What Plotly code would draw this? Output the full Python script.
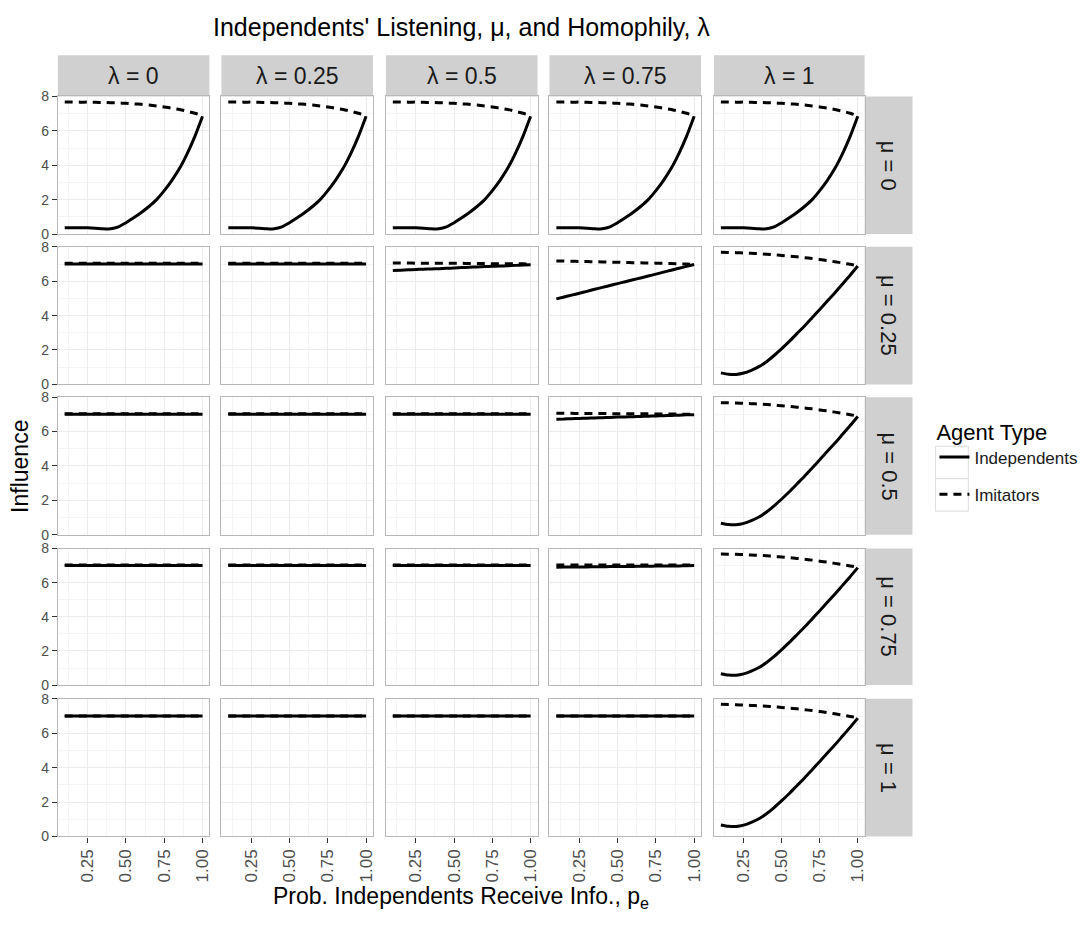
import plotly.graph_objects as go

# ---------------- data ----------------
p = [0.10, 0.15, 0.20, 0.25, 0.30, 0.35, 0.40, 0.45, 0.50, 0.55,
     0.60, 0.65, 0.70, 0.75, 0.80, 0.85, 0.90, 0.95, 1.00]

lam_labels = ["λ = 0", "λ = 0.25", "λ = 0.5", "λ = 0.75", "λ = 1"]
mu_labels = ["μ = 0", "μ = 0.25", "μ = 0.5", "μ = 0.75", "μ = 1"]

x_tickvals = [0.25, 0.50, 0.75, 1.00]
x_ticktext = ["0.25", "0.50", "0.75", "1.00"]
y_tickvals = [0, 2, 4, 6, 8]

# mu = 0 (all lambda)
ind_mu0 = [0.37, 0.37, 0.36, 0.36, 0.34, 0.30, 0.31, 0.42, 0.66, 0.94,
           1.25, 1.60, 2.00, 2.52, 3.12, 3.82, 4.68, 5.68, 6.85]
imi_mu0 = [7.68, 7.68, 7.67, 7.67, 7.66, 7.65, 7.64, 7.62, 7.60, 7.57,
           7.54, 7.50, 7.45, 7.39, 7.32, 7.24, 7.14, 7.02, 6.88]

# lambda = 1 (mu > 0)
ind_lam1 = [0.67, 0.59, 0.58, 0.66, 0.82, 1.03, 1.32, 1.68, 2.08, 2.50,
            2.95, 3.40, 3.88, 4.36, 4.85, 5.33, 5.84, 6.35, 6.88]
imi_lam1 = [7.68, 7.67, 7.66, 7.64, 7.62, 7.60, 7.57, 7.54, 7.50, 7.46,
            7.42, 7.37, 7.32, 7.26, 7.20, 7.13, 7.06, 6.98, 6.90]

# flat panels
ind_flat = [7.00, 7.00, 7.00, 7.00, 7.00, 7.00, 7.00, 7.00, 7.00, 7.00,
            7.00, 7.00, 7.00, 7.00, 7.00, 7.00, 7.00, 7.00, 7.00]
imi_flat = [7.04, 7.04, 7.04, 7.04, 7.04, 7.04, 7.04, 7.04, 7.04, 7.04,
            7.04, 7.04, 7.04, 7.04, 7.04, 7.04, 7.04, 7.04, 7.04]
imi_mu1 = [7.00, 7.00, 7.00, 7.00, 7.00, 7.00, 7.00, 7.00, 7.00, 7.00,
           7.00, 7.00, 7.00, 7.00, 7.00, 7.00, 7.00, 7.00, 7.00]

# mu = 0.25
ind_mu25_lam50 = [6.62, 6.64, 6.66, 6.68, 6.70, 6.71, 6.73, 6.75, 6.77, 6.79,
                  6.81, 6.83, 6.85, 6.87, 6.88, 6.90, 6.92, 6.94, 6.96]
imi_mu25_lam50 = [7.06, 7.06, 7.06, 7.05, 7.05, 7.05, 7.05, 7.04, 7.04, 7.04,
                  7.03, 7.03, 7.03, 7.02, 7.02, 7.02, 7.01, 7.01, 7.00]
ind_mu25_lam75 = [4.97, 5.08, 5.19, 5.30, 5.41, 5.53, 5.64, 5.75, 5.86, 5.97,
                  6.08, 6.19, 6.30, 6.41, 6.53, 6.64, 6.75, 6.86, 6.97]
imi_mu25_lam75 = [7.18, 7.17, 7.16, 7.15, 7.14, 7.13, 7.12, 7.11, 7.10, 7.09,
                  7.08, 7.07, 7.06, 7.05, 7.04, 7.03, 7.01, 7.00, 6.98]

# mu = 0.5
ind_mu50_lam75 = [6.72, 6.73, 6.75, 6.76, 6.78, 6.79, 6.81, 6.82, 6.84, 6.85,
                  6.86, 6.88, 6.89, 6.91, 6.92, 6.94, 6.95, 6.97, 6.98]
imi_mu50_lam75 = [7.06, 7.06, 7.06, 7.05, 7.05, 7.05, 7.05, 7.04, 7.04, 7.04,
                  7.03, 7.03, 7.03, 7.02, 7.02, 7.02, 7.01, 7.01, 7.00]

# mu = 0.75
ind_mu75_lam75 = [6.90, 6.91, 6.91, 6.92, 6.92, 6.93, 6.93, 6.94, 6.94, 6.95,
                  6.95, 6.96, 6.96, 6.97, 6.97, 6.98, 6.98, 6.99, 7.00]
imi_mu75_lam75 = [7.03, 7.03, 7.03, 7.03, 7.03, 7.03, 7.03, 7.03, 7.03, 7.03,
                  7.03, 7.03, 7.03, 7.03, 7.03, 7.03, 7.03, 7.03, 7.03]

# panel table: rows = mu, cols = lambda
panels = [
    [(ind_mu0, imi_mu0)] * 5,
    [(ind_flat, imi_flat), (ind_flat, imi_flat), (ind_mu25_lam50, imi_mu25_lam50),
     (ind_mu25_lam75, imi_mu25_lam75), (ind_lam1, imi_lam1)],
    [(ind_flat, imi_flat), (ind_flat, imi_flat), (ind_flat, imi_flat),
     (ind_mu50_lam75, imi_mu50_lam75), (ind_lam1, imi_lam1)],
    [(ind_flat, imi_flat), (ind_flat, imi_flat), (ind_flat, imi_flat),
     (ind_mu75_lam75, imi_mu75_lam75), (ind_lam1, imi_lam1)],
    [(ind_flat, imi_mu1), (ind_flat, imi_mu1), (ind_flat, imi_mu1),
     (ind_flat, imi_mu1), (ind_lam1, imi_lam1)],
]

# ---------------- layout geometry (pixels) ----------------
W, H = 1092, 927
col_px = [(58, 210), (222, 374), (387, 539), (551, 703), (716, 867)]
row_px = [(90, 230), (243, 383), (396, 536), (550, 689), (703, 843)]
strip_top = (48, 90)
strip_right = (867, 915)


def px(x):
    return x / W


def py(y):
    return 1 - y / H


FONT = "Liberation Sans, Arial, Helvetica, sans-serif"
STRIP_FILL = "#D0D0D0"
BORDER = "#B8B8B8"
GRID = "#EBEBEB"
GRID_MINOR = "#F4F4F4"

fig = go.Figure()
shapes = []
annotations = []

for r in range(5):
    for c in range(5):
        idx = r * 5 + c + 1
        xa = "x" if idx == 1 else f"x{idx}"
        ya = "y" if idx == 1 else f"y{idx}"
        ind, imi = panels[r][c]
        fig.add_trace(go.Scatter(
            x=p, y=ind, mode="lines", xaxis=xa, yaxis=ya,
            line=dict(color="black", width=3, dash="solid",
                      shape="spline", smoothing=0.6),
            name="Independents", legendgroup="ind",
            showlegend=(idx == 1), hoverinfo="skip"))
        fig.add_trace(go.Scatter(
            x=p, y=imi, mode="lines", xaxis=xa, yaxis=ya,
            line=dict(color="black", width=3, dash="8px,6px",
                      shape="spline", smoothing=0.6),
            name="Imitators", legendgroup="imi",
            showlegend=(idx == 1), hoverinfo="skip"))

        bottom = (r == 4)
        left = (c == 0)
        xkey = "xaxis" if idx == 1 else f"xaxis{idx}"
        ykey = "yaxis" if idx == 1 else f"yaxis{idx}"
        fig.layout[xkey] = dict(
            domain=[px(col_px[c][0]), px(col_px[c][1])],
            anchor=ya, range=[0.055, 1.045],
            tickmode="array", tickvals=x_tickvals, ticktext=x_ticktext,
            showticklabels=bottom, ticks="outside" if bottom else "",
            ticklen=5, tickwidth=1.2, tickcolor="#333333", tickangle=-90,
            tickfont=dict(family=FONT, size=17, color="#4D4D4D"),
            showgrid=True, gridcolor=GRID, gridwidth=1,
            minor=dict(tickvals=[0.125, 0.375, 0.625, 0.875], showgrid=True,
                       gridcolor=GRID_MINOR, gridwidth=0.6),
            showline=True, mirror=True, linecolor=BORDER, linewidth=1.2,
            zeroline=False, fixedrange=True)
        fig.layout[ykey] = dict(
            domain=[py(row_px[r][1]), py(row_px[r][0])],
            anchor=xa, range=[0, 8],
            tickmode="array", tickvals=y_tickvals,
            showticklabels=left, ticks="outside" if left else "",
            ticklen=5, tickwidth=1.2, tickcolor="#333333",
            tickfont=dict(family=FONT, size=14, color="#4D4D4D"),
            showgrid=True, gridcolor=GRID, gridwidth=1,
            minor=dict(tickvals=[1, 3, 5, 7], showgrid=True,
                       gridcolor=GRID_MINOR, gridwidth=0.6),
            showline=True, mirror=True, linecolor=BORDER, linewidth=1.2,
            zeroline=False, fixedrange=True)

# top strips
for c in range(5):
    shapes.append(dict(type="rect", xref="paper", yref="paper",
                       x0=px(col_px[c][0]), x1=px(col_px[c][1]),
                       y0=py(strip_top[1]), y1=py(strip_top[0]),
                       fillcolor=STRIP_FILL, line=dict(width=0), layer="below"))
    annotations.append(dict(text=lam_labels[c], xref="paper", yref="paper",
                            x=px((col_px[c][0] + col_px[c][1]) / 2),
                            y=py((strip_top[0] + strip_top[1]) / 2),
                            showarrow=False, xanchor="center", yanchor="middle",
                            font=dict(family=FONT, size=23, color="#1A1A1A")))
# right strips
for r in range(5):
    shapes.append(dict(type="rect", xref="paper", yref="paper",
                       x0=px(strip_right[0]), x1=px(strip_right[1]),
                       y0=py(row_px[r][1]), y1=py(row_px[r][0]),
                       fillcolor=STRIP_FILL, line=dict(width=0), layer="below"))
    annotations.append(dict(text=mu_labels[r], xref="paper", yref="paper",
                            x=px((strip_right[0] + strip_right[1]) / 2),
                            y=py((row_px[r][0] + row_px[r][1]) / 2),
                            showarrow=False, xanchor="center", yanchor="middle",
                            textangle=90,
                            font=dict(family=FONT, size=22, color="#1A1A1A")))

# legend key boxes (as in the ggplot legend)
for (y0, y1) in [(446, 479), (479, 512)]:
    shapes.append(dict(type="rect", xref="paper", yref="paper",
                       x0=px(938), x1=px(971), y0=py(y1), y1=py(y0),
                       fillcolor="white", line=dict(color="#DDDDDD", width=1),
                       layer="below"))

# titles
annotations.append(dict(text="Independents' Listening, μ, and Homophily, λ",
                        xref="paper", yref="paper", x=px(463), y=py(19),
                        showarrow=False, xanchor="center", yanchor="middle",
                        font=dict(family=FONT, size=25, color="black")))
annotations.append(dict(text="Prob. Independents Receive Info., p<sub>e</sub>",
                        xref="paper", yref="paper", x=px(462), y=py(905),
                        showarrow=False, xanchor="center", yanchor="middle",
                        font=dict(family=FONT, size=23, color="black")))
annotations.append(dict(text="Influence", xref="paper", yref="paper",
                        x=px(20), y=py(466), textangle=-90,
                        showarrow=False, xanchor="center", yanchor="middle",
                        font=dict(family=FONT, size=23, color="black")))

fig.update_layout(
    width=W, height=H,
    margin=dict(l=0, r=0, t=0, b=0),
    paper_bgcolor="white", plot_bgcolor="white",
    shapes=shapes, annotations=annotations,
    showlegend=True,
    legend=dict(x=px(937), y=py(410), xanchor="left", yanchor="top",
                title=dict(text="Agent Type", font=dict(family=FONT, size=22, color="black")),
                font=dict(family=FONT, size=17, color="#1A1A1A"),
                bgcolor="rgba(0,0,0,0)", itemwidth=30, tracegroupgap=12),
)

fig.write_html("out.html", config={"displayModeBar": False},
               post_script="document.body.style.margin='0px';")
